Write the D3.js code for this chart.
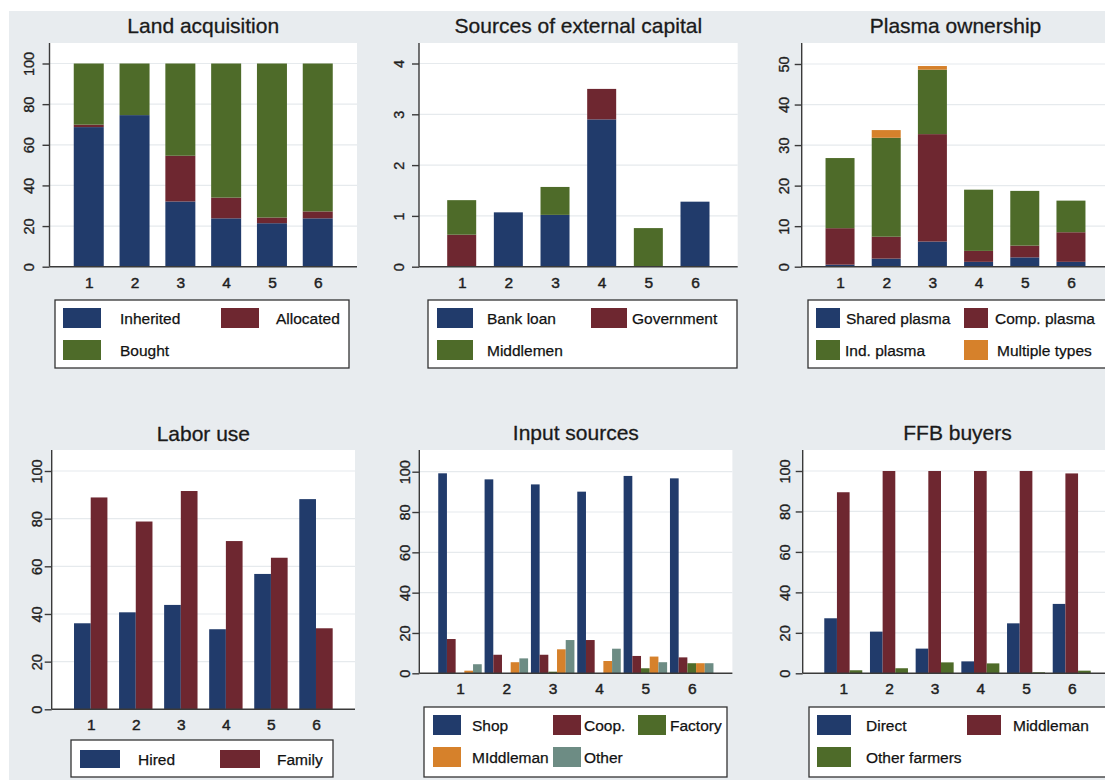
<!DOCTYPE html>
<html>
<head>
<meta charset="utf-8">
<script src="https://cdn.jsdelivr.net/npm/d3@7"></script>
<style>
  html, body { margin: 0; padding: 0; background: #ffffff; }
  svg { display: block; font-family: "Liberation Sans", Arial, Helvetica, sans-serif; }
  svg text { paint-order: stroke; stroke-linejoin: round; }
</style>
</head>
<body>
<svg id="chart" width="1105" height="780"></svg>
<script>
// Farmer groups 1-6
const categories = ["1", "2", "3", "4", "5", "6"];

// Land acquisition (% of land)
const landInherited = [68.7, 74.6, 32.1, 23.8, 21.4, 23.8];
const landAllocated = [1.2, 0, 22.5, 10.2, 2.8, 3.4];
const landBought    = [30.1, 25.4, 45.4, 66.0, 75.8, 72.8];
const landTicks = [0, 20, 40, 60, 80, 100];

// Sources of external capital
const capBankLoan   = [0, 1.07, 1.02, 2.90, 0, 1.28];
const capGovernment = [0.63, 0, 0, 0.60, 0, 0];
const capMiddlemen  = [0.68, 0, 0.55, 0, 0.76, 0];
const capTicks = [0, 1, 2, 3, 4];

// Plasma ownership
const plasmaShared   = [0.5, 2.0, 6.2, 1.2, 2.3, 1.2];
const plasmaComp     = [9.0, 5.4, 26.5, 2.7, 2.9, 7.3];
const plasmaInd      = [17.3, 24.4, 15.9, 15.1, 13.5, 7.8];
const plasmaMultiple = [0, 1.9, 0.9, 0, 0, 0];
const plasmaTicks = [0, 10, 20, 30, 40, 50];

// Labor use
const laborHired  = [36.1, 40.7, 43.8, 33.6, 56.8, 88.2];
const laborFamily = [88.9, 78.8, 91.6, 70.6, 63.6, 34.0];

// Input sources
const inputShop      = [99.2, 96.2, 93.7, 90.1, 97.9, 96.7];
const inputCoop      = [17.0, 9.2, 9.2, 16.5, 8.6, 7.9];
const inputFactory   = [0, 0, 0.8, 0, 2.5, 5.0];
const inputMiddleman = [1.3, 5.5, 11.9, 6.1, 8.3, 5.0];
const inputOther     = [4.5, 7.4, 16.5, 12.2, 5.5, 5.0];

// FFB buyers
const ffbDirect    = [27.2, 20.6, 12.2, 5.9, 24.7, 34.3];
const ffbMiddleman = [89.5, 100, 100, 100, 100, 98.8];
const ffbOther     = [1.5, 2.5, 5.4, 4.9, 0.5, 1.3];

const pctTicks = [0, 20, 40, 60, 80, 100];

const C = {
  navy: "#213b6b",
  maroon: "#6e2730",
  green: "#4e6b29",
  orange: "#d6812b",
  teal: "#6d8c84"
};

const panels = [
  {
    title: "Land acquisition", mode: "stack",
    series: [["Inherited", landInherited, C.navy], ["Allocated", landAllocated, C.maroon], ["Bought", landBought, C.green]],
    ticks: landTicks, x0: 49.5, x1: 357, top: 43, bottom: 266.7, tickTopPx: 63.5,
    pad: 0.857, barW: 30, labelGap: 15.5, titleY: 33,
    legend: { box: [55, 300, 349, 368], keyW: 38, keyH: 20,
              pos: [[63, 308, 120], [221, 308, 276], [63, 340, 120]] }
  },
  {
    title: "Sources of external capital", mode: "stack",
    series: [["Bank loan", capBankLoan, C.navy], ["Government", capGovernment, C.maroon], ["Middlemen", capMiddlemen, C.green]],
    ticks: capTicks, x0: 419, x1: 737.7, top: 43, bottom: 266.7, tickTopPx: 63.5,
    pad: 0.915, barW: 29, labelGap: 15, titleY: 33,
    legend: { box: [428, 300, 737, 368], keyW: 36, keyH: 20,
              pos: [[437, 308, 487], [591, 308, 632], [437, 340, 487]] }
  },
  {
    title: "Plasma ownership", mode: "stack",
    series: [["Shared plasma", plasmaShared, C.navy], ["Comp. plasma", plasmaComp, C.maroon], ["Ind. plasma", plasmaInd, C.green], ["Multiple types", plasmaMultiple, C.orange]],
    ticks: plasmaTicks, x0: 801.7, x1: 1109.3, top: 43, bottom: 266.7, tickTopPx: 64,
    pad: 0.83, barW: 29, labelGap: 13, titleY: 33,
    legend: { box: [808, 300, 1125, 368], keyW: 24, keyH: 20,
              pos: [[816, 308, 846], [964, 308, 995], [816, 340, 845], [964, 340, 997]] }
  },
  {
    title: "Labor use", mode: "group",
    series: [["Hired", laborHired, C.navy], ["Family", laborFamily, C.maroon]],
    ticks: pctTicks, x0: 51.7, x1: 355, top: 450, bottom: 709.3, tickTopPx: 471,
    pad: 0.866, barW: 33.4, labelGap: 10, titleY: 441,
    legend: { box: [71, 740, 333, 777], keyW: 40, keyH: 18,
              pos: [[80, 750, 138], [220, 750, 277]] }
  },
  {
    title: "Input sources", mode: "group",
    series: [["Shop", inputShop, C.navy], ["Coop.", inputCoop, C.maroon], ["Factory", inputFactory, C.green], ["MIddleman", inputMiddleman, C.orange], ["Other", inputOther, C.teal]],
    ticks: pctTicks, x0: 419.3, x1: 732.4, top: 450, bottom: 673.3, tickTopPx: 471.7,
    pad: 0.878, barW: 43.5, labelGap: 9, titleY: 440,
    legend: { box: [424, 707, 727, 777], keyW: 28, keyH: 20,
              pos: [[433, 715, 472], [553, 715, 584], [638, 715, 670], [433, 747, 472], [553, 747, 584]] }
  },
  {
    title: "FFB buyers", mode: "group",
    series: [["Direct", ffbDirect, C.navy], ["Middleman", ffbMiddleman, C.maroon], ["Other farmers", ffbOther, C.green]],
    ticks: pctTicks, x0: 802.7, x1: 1112.3, top: 450, bottom: 673.3, tickTopPx: 471,
    pad: 0.888, barW: 38, labelGap: 13, titleY: 440,
    legend: { box: [809, 707, 1125, 777], keyW: 34, keyH: 20,
              pos: [[817, 715, 866], [967, 715, 1013], [817, 747, 866]] }
  }
];

const svg = d3.select("#chart");

// page background: thin white margin on top/left, grey graph region
svg.append("rect").attr("x", 0).attr("y", 0).attr("width", 1105).attr("height", 780).attr("fill", "#ffffff");
svg.append("rect").attr("x", 9).attr("y", 11).attr("width", 1096).attr("height", 769).attr("fill", "#e8ecef");

panels.forEach(p => {
  const g = svg.append("g");
  const topTick = p.ticks[p.ticks.length - 1];

  const x = d3.scalePoint().domain(categories).range([p.x0, p.x1]).padding(p.pad);
  const y = d3.scaleLinear().domain([0, topTick]).range([p.bottom, p.tickTopPx]);

  // plot region
  g.append("rect")
    .attr("x", p.x0).attr("y", p.top)
    .attr("width", p.x1 - p.x0).attr("height", p.bottom - p.top)
    .attr("fill", "#ffffff");

  // horizontal grid lines
  g.selectAll("line.grid")
    .data(p.ticks.filter(t => t > 0))
    .join("line")
    .attr("class", "grid")
    .attr("x1", p.x0).attr("x2", p.x1)
    .attr("y1", d => y(d)).attr("y2", d => y(d))
    .attr("stroke", "#e6eaed").attr("stroke-width", 1.2);

  // bars
  if (p.mode === "stack") {
    const keys = p.series.map(s => s[0]);
    const rows = categories.map((c, i) => {
      const r = { cat: c };
      p.series.forEach(s => { r[s[0]] = s[1][i]; });
      return r;
    });
    const stacked = d3.stack().keys(keys)(rows);
    stacked.forEach((layer, li) => {
      g.append("g")
        .selectAll("rect")
        .data(layer.filter(d => d[1] - d[0] > 0))
        .join("rect")
        .attr("x", d => x(d.data.cat) - p.barW / 2)
        .attr("width", p.barW)
        .attr("y", d => y(d[1]))
        .attr("height", d => y(d[0]) - y(d[1]))
        .attr("fill", p.series[li][2]);
    });
  } else {
    const inner = d3.scaleBand()
      .domain(p.series.map(s => s[0]))
      .range([-p.barW / 2, p.barW / 2])
      .padding(0);
    p.series.forEach(s => {
      g.append("g")
        .selectAll("rect")
        .data(categories.map((c, i) => ({ cat: c, v: s[1][i] })).filter(d => d.v > 0))
        .join("rect")
        .attr("x", d => x(d.cat) + inner(s[0]))
        .attr("width", inner.bandwidth())
        .attr("y", d => y(d.v))
        .attr("height", d => y(0) - y(d.v))
        .attr("fill", s[2]);
    });
  }

  // y axis
  const yAxis = g.append("g")
    .attr("transform", `translate(${p.x0},0)`)
    .call(d3.axisLeft(y).tickValues(p.ticks).tickSize(7).tickFormat(d3.format("d")));
  yAxis.select(".domain")
    .attr("d", `M0,${p.top}V${p.bottom}`)
    .attr("stroke", "#3a3a3a").attr("stroke-width", 1.4);
  yAxis.selectAll(".tick line").attr("stroke", "#3a3a3a").attr("stroke-width", 1.4);
  yAxis.selectAll(".tick text")
    .attr("transform", "rotate(-90)")
    .attr("x", 0).attr("y", -p.labelGap).attr("dy", 0)
    .attr("text-anchor", "middle")
    .attr("fill", "#1e1e1e")
    .attr("stroke", "#1e1e1e").attr("stroke-width", 0.35)
    .style("font-size", "14.5px")
    .style("font-family", "'Liberation Sans', Arial, sans-serif");

  // x axis
  const xAxis = g.append("g")
    .attr("transform", `translate(0,${p.bottom})`)
    .call(d3.axisBottom(x).tickSize(0));
  xAxis.select(".domain")
    .attr("d", `M${p.x0},0H${p.x1}`)
    .attr("stroke", "#3a3a3a").attr("stroke-width", 1.4);
  xAxis.selectAll(".tick text")
    .attr("y", 21).attr("dy", 0)
    .attr("fill", "#1e1e1e")
    .attr("stroke", "#1e1e1e").attr("stroke-width", 0.45)
    .style("font-size", "15.5px")
    .style("font-family", "'Liberation Sans', Arial, sans-serif");

  // title
  g.append("text")
    .attr("x", (p.x0 + p.x1) / 2).attr("y", p.titleY)
    .attr("text-anchor", "middle")
    .attr("fill", "#1a1a1a")
    .attr("stroke", "#1a1a1a").attr("stroke-width", 0.3)
    .style("font-size", "21px")
    .text(p.title);

  // legend
  const L = p.legend;
  g.append("rect")
    .attr("x", L.box[0]).attr("y", L.box[1])
    .attr("width", L.box[2] - L.box[0]).attr("height", L.box[3] - L.box[1])
    .attr("fill", "#ffffff").attr("stroke", "#333333").attr("stroke-width", 1.3);
  const items = g.append("g").selectAll("g")
    .data(p.series.map((s, i) => ({ name: s[0], color: s[2], pos: L.pos[i] })))
    .join("g");
  items.append("rect")
    .attr("x", d => d.pos[0]).attr("y", d => d.pos[1])
    .attr("width", L.keyW).attr("height", L.keyH)
    .attr("fill", d => d.color);
  items.append("text")
    .attr("x", d => d.pos[2]).attr("y", d => d.pos[1] + L.keyH / 2 + 5.5)
    .attr("fill", "#111111")
    .attr("stroke", "#111111").attr("stroke-width", 0.25)
    .style("font-size", "15.5px")
    .text(d => d.name);
});
</script>
</body>
</html>
